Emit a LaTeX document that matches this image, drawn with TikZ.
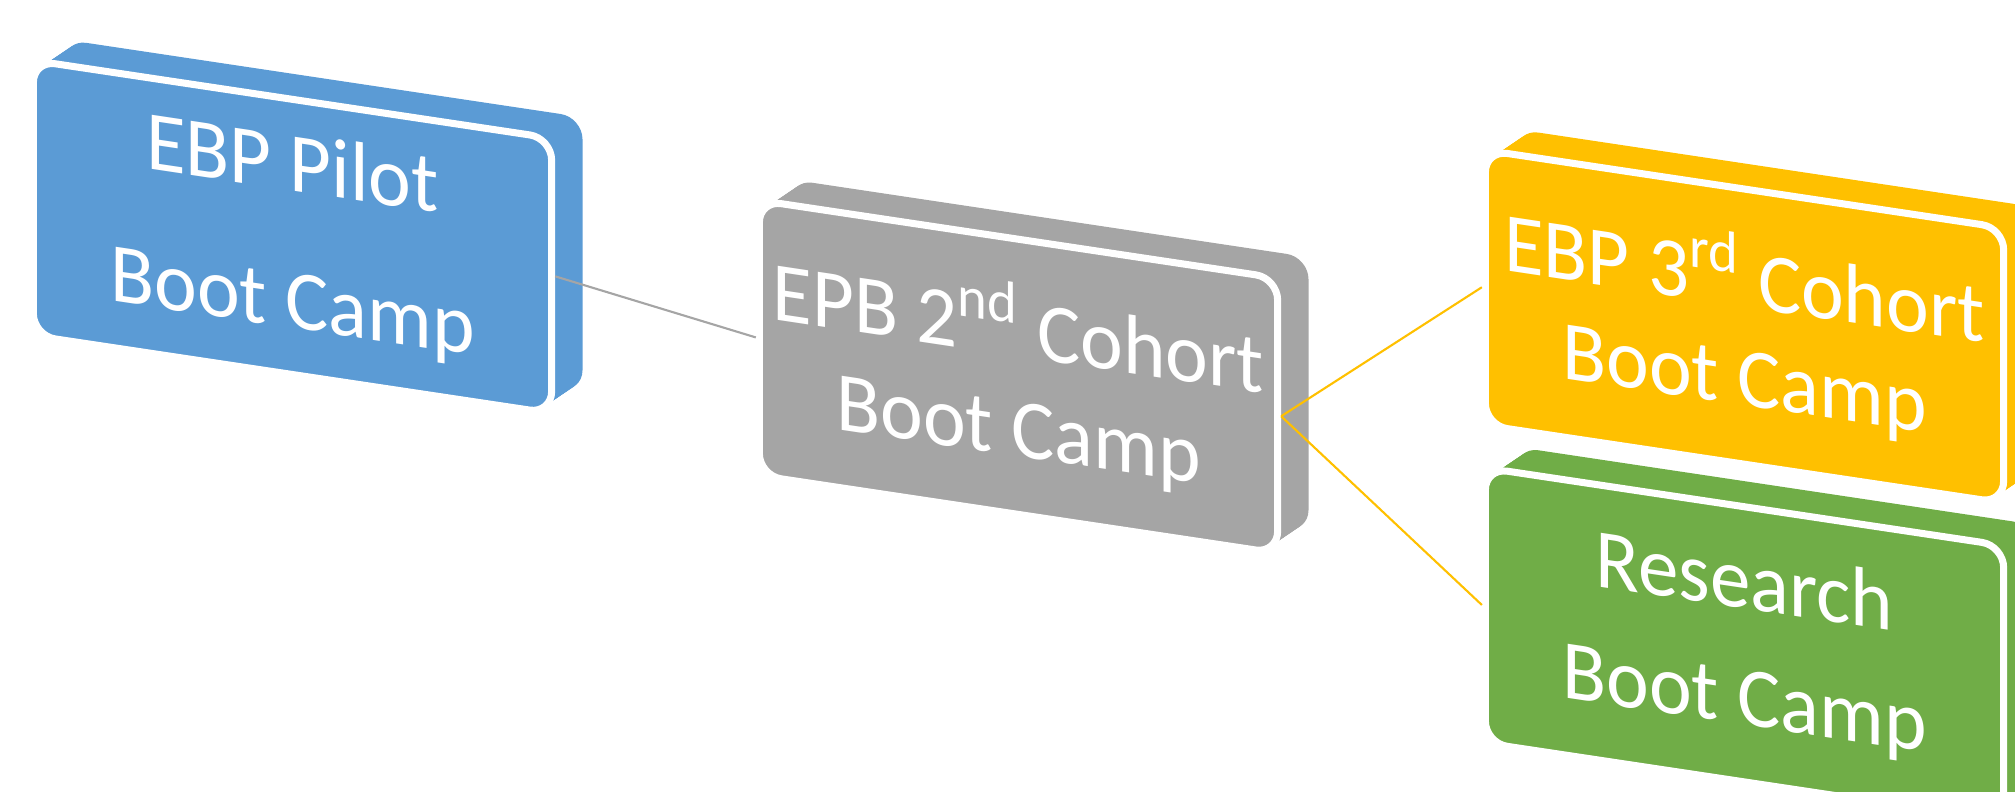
\documentclass[tikz,border=0pt]{standalone}
\usepackage{fontspec}
\setmainfont{Carlito}[FakeStretch=0.96]
\definecolor{cblue}{HTML}{5B9BD5}
\definecolor{cgray}{HTML}{A5A5A5}
\definecolor{cyellow}{HTML}{FFC000}
\definecolor{cgreen}{HTML}{70AD47}
\tikzset{
  slab/.style={fill=#1, rounded corners=0.22cm},
  face/.style={fill=#1, draw=white, line width=2pt, rounded corners=0.22cm,
    rectangle, minimum width=5.18cm, minimum height=2.75cm, inner sep=0pt,
    transform shape, align=center, text=white},
  link/.style={line width=0.6pt}
}
\newcommand{\slabbox}[6]{%
  \begin{scope}[shift={(#2,#3)}, yslant=-0.15]
    \foreach \k in {0,...,20}{\fill[slab=#4] ({31*\k/20},{-25.65*\k/20}) rectangle ++(518,275);}
    \node[face=#4, font=\fontsize{24}{#5}\selectfont] (#1) at (259,137.5) {#6};
  \end{scope}}
\begin{document}
\begin{tikzpicture}[x=0.01cm, y=-0.01cm]
\useasboundingbox (0,0) rectangle (2015,792);
\clip (0,0) rectangle (2015,792);
\slabbox{pilot}{33.5}{60.6}{cblue}{39pt}{EBP Pilot\\Boot Camp}
\slabbox{second}{759.5}{200.5}{cgray}{28.5pt}{EPB 2\textsuperscript{nd} Cohort\\Boot Camp}
\slabbox{third}{1485.5}{150.3}{cyellow}{28pt}{EBP 3\textsuperscript{rd} Cohort\\Boot Camp}
\slabbox{research}{1485.5}{468}{cgreen}{33pt}{Research\\Boot Camp}
\draw[link, cgray] (pilot.east) -- (second.west);
\draw[link, cyellow] (second.east) -- (third.west);
\draw[link, cyellow] (second.east) -- (research.west);
\end{tikzpicture}
\end{document}
